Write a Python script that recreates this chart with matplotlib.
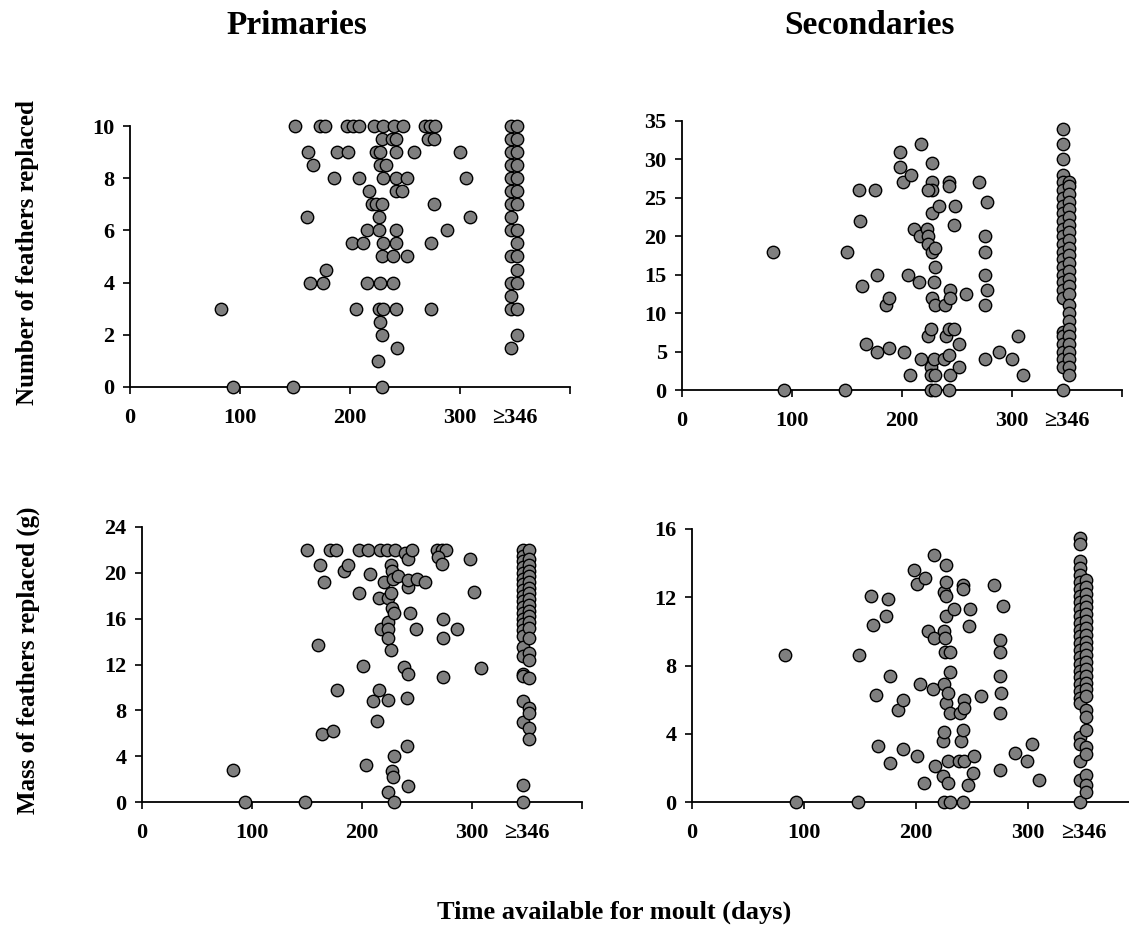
import matplotlib
matplotlib.use("Agg")
import matplotlib.pyplot as plt

plt.rcParams['font.family'] = ['Liberation Serif', 'DejaVu Serif']
plt.rcParams['font.weight'] = 'bold'

# ---------------- data ----------------
# Primaries: number of feathers replaced vs. time available (days)
prim_num_days = [150, 173, 177, 197, 203, 208, 222, 230, 240, 248, 268, 273, 277,
                 229, 238, 242, 271, 276,
                 162, 188, 198, 224, 227, 242, 258, 300,
                 166, 227, 233,
                 185, 208, 230, 242, 252, 305,
                 217, 242, 247,
                 220, 224, 229, 276,
                 161, 226, 309,
                 215, 226, 242, 288,
                 202, 212, 230, 242, 274,
                 229, 239, 252,
                 178,
                 164, 175, 215, 227, 239,
                 83, 205, 226, 230, 242, 274,
                 227, 229, 243, 225,
                 94, 148, 229]
prim_num_vals = [10, 10, 10, 10, 10, 10, 10, 10, 10, 10, 10, 10, 10,
                 9.5, 9.5, 9.5, 9.5, 9.5,
                 9, 9, 9, 9, 9, 9, 9, 9,
                 8.5, 8.5, 8.5,
                 8, 8, 8, 8, 8, 8,
                 7.5, 7.5, 7.5,
                 7, 7, 7, 7,
                 6.5, 6.5, 6.5,
                 6, 6, 6, 6,
                 5.5, 5.5, 5.5, 5.5, 5.5,
                 5, 5, 5,
                 4.5,
                 4, 4, 4, 4, 4,
                 3, 3, 3, 3, 3, 3,
                 2.5, 2, 1.5, 1,
                 0, 0, 0]
# birds with >=346 days, drawn as a column in two offsets
prim_num_col_a = [10, 9.5, 9, 8.5, 8, 7.5, 7, 6.5, 6, 5, 4, 3.5, 3, 1.5]
prim_num_col_b = [10, 9.5, 9, 8.5, 8, 7.5, 7, 6, 5.5, 5, 4.5, 4, 3, 2]

# Secondaries: number of feathers replaced
sec_num_days = [83, 93, 148, 150, 161, 162, 164, 167, 175, 177, 177, 185, 188, 188,
                198, 198, 201, 208, 202, 205, 207, 215, 217, 211, 216, 217,
                223, 224, 224, 224, 226, 226, 226, 226, 227, 227, 227, 224, 227, 227,
                230, 230, 229, 227, 230, 229, 230, 230, 234, 239, 238, 240,
                243, 243, 244, 244, 243, 247, 243, 244, 243, 248, 247, 252, 252, 258,
                270, 277, 275, 275, 275, 277, 275, 275, 288, 300, 305, 310]
sec_num_vals = [18, 0, 0, 18, 26, 22, 13.5, 6, 26, 15, 5, 11, 12, 5.5,
                31, 29, 27, 28, 5, 15, 2, 14, 32, 21, 20, 4,
                21, 20, 19, 7, 8, 3, 2, 0, 29.5, 27, 26, 26, 23, 18,
                18.5, 16, 14, 12, 11, 4, 2, 0, 24, 11, 4, 7,
                27, 26.5, 13, 12, 8, 8, 4.5, 2, 0, 24, 21.5, 6, 3, 12.5,
                27, 24.5, 20, 18, 15, 13, 11, 4, 5, 4, 7, 2]
sec_num_col_a = [34, 32, 30, 28, 27, 26, 25, 24, 23, 22, 21, 20, 19, 18, 17, 16,
                 15, 14, 13, 12, 7.5, 7, 6, 5, 4, 3, 0]
sec_num_col_b = [27, 26.5, 25.5, 24.5, 23.5, 22.5, 21.5, 20.5, 19.5, 18.5, 17.5,
                 16.5, 15.5, 14.5, 13.5, 12.5, 11, 10, 9, 8, 7, 6, 5, 4, 3, 2]

# Primaries: mass of feathers replaced (g)
prim_mass_days = [83, 94, 148, 150, 162, 165, 160, 164, 174, 177, 171, 176, 184, 187,
                  197, 205, 197, 201, 204, 207, 210, 214, 215, 215, 217, 220,
                  216, 223, 224, 224, 224, 226, 224, 224, 224, 226, 226, 227,
                  227, 228, 229, 229, 227, 229, 228, 230, 233, 239, 242, 238,
                  242, 241, 241, 242, 242, 242, 244, 245, 249, 250, 257,
                  268, 273, 276, 269, 273, 274, 274, 274, 286, 298, 302, 308]
prim_mass_vals = [2.8, 0, 0, 22, 20.7, 19.2, 13.7, 5.9, 6.2, 9.8, 22, 22, 20.2, 20.7,
                  22, 22, 18.2, 11.9, 3.25, 19.9, 8.8, 7.1, 9.8, 17.8, 15.1, 19.2,
                  22, 22, 8.9, 0.9, 17.8, 18.2, 15.7, 15.1, 14.3, 13.3, 20.7, 20.2,
                  2.7, 2.2, 4.0, 0, 16.9, 16.5, 19.5, 22, 19.7, 21.7, 21.2, 11.8,
                  11.2, 9.1, 4.9, 1.4, 18.8, 19.4, 16.5, 22, 15.1, 19.5, 19.2,
                  22, 22, 22, 21.4, 20.8, 16.0, 14.3, 10.9, 15.1, 21.2, 18.3, 11.7]
prim_mass_col_a = [22, 21.5, 21, 20.5, 20, 19.5, 19, 18.5, 18, 17.5, 17, 16.5, 16,
                   15.5, 15, 14.5, 13.5, 12.7, 11.2, 11, 8.8, 7.0, 1.5, 0]
prim_mass_col_b = [22, 21.2, 20.7, 20.2, 19.7, 19.2, 18.7, 18.2, 17.7, 17.2, 16.7,
                   16.2, 15.7, 15.2, 14.3, 13.0, 12.4, 10.8, 8.2, 7.8, 6.5, 5.5]

# Secondaries: mass of feathers replaced (g)
sec_mass_days = [83, 93, 148, 149, 160, 162, 164, 166, 175, 173, 177, 177, 184, 188,
                 188, 198, 201, 208, 201, 204, 207, 216, 211, 216, 215, 217,
                 224, 224, 225, 225, 227, 225, 226, 226, 227, 225, 227, 227, 227,
                 230, 230, 229, 230, 229, 229, 225, 230, 234, 239, 240, 242,
                 238, 243, 242, 242, 242, 243, 243, 248, 247, 252, 251, 246, 258,
                 270, 278, 275, 275, 275, 276, 275, 275, 288, 299, 304, 310]
sec_mass_vals = [8.6, 0, 0, 8.6, 12.1, 10.4, 6.3, 3.3, 11.9, 10.9, 7.4, 2.3, 5.4, 6.0,
                 3.1, 13.6, 12.8, 13.1, 2.7, 6.9, 1.1, 14.5, 10.0, 9.6, 6.6, 2.1,
                 1.5, 3.6, 4.1, 6.9, 5.8, 10.0, 9.6, 8.8, 13.9, 12.3, 12.9, 12.1, 10.9,
                 8.8, 7.6, 6.4, 5.2, 2.4, 1.1, 0, 0, 11.3, 5.2, 3.6, 4.2,
                 2.4, 2.4, 0, 12.7, 12.5, 6.0, 5.5, 11.3, 10.3, 2.7, 1.7, 1.0, 6.2,
                 12.7, 11.5, 9.5, 8.8, 7.4, 6.4, 5.2, 1.9, 2.9, 2.4, 3.4, 1.3]
sec_mass_col_a = [15.5, 15.1, 14.1, 13.7, 13.3, 12.9, 12.5, 12.1, 11.7, 11.3, 10.9,
                  10.5, 10.1, 9.7, 9.3, 8.9, 8.5, 8.1, 7.7, 7.3, 6.9, 6.5, 6.1, 5.8,
                  3.8, 3.4, 2.4, 1.3, 0]
sec_mass_col_b = [13.0, 12.6, 12.2, 11.8, 11.4, 11.0, 10.6, 10.2, 9.8, 9.4, 9.0, 8.6,
                  8.2, 7.8, 7.4, 7.0, 6.6, 6.2, 5.4, 5.0, 4.2, 3.2, 2.8, 1.6, 1.0, 0.6]

COL_DAY_A = 346
COL_DAY_B = 352

x_ticks = [0, 100, 200, 300, 400]
x_tick_labels = ['0', '100', '200', '300', '']
open_label = '\u2265346'

panels = [
    dict(rect=(130, 126, 440, 261), days=prim_num_days, vals=prim_num_vals,
         col_a=prim_num_col_a, col_b=prim_num_col_b, ymax=10, yticks=[0, 2, 4, 6, 8, 10]),
    dict(rect=(682, 121, 440, 269), days=sec_num_days, vals=sec_num_vals,
         col_a=sec_num_col_a, col_b=sec_num_col_b, ymax=35, yticks=[0, 5, 10, 15, 20, 25, 30, 35]),
    dict(rect=(142, 527, 440, 275), days=prim_mass_days, vals=prim_mass_vals,
         col_a=prim_mass_col_a, col_b=prim_mass_col_b, ymax=24, yticks=[0, 4, 8, 12, 16, 20, 24]),
    dict(rect=(692, 529, 448, 273), days=sec_mass_days, vals=sec_mass_vals,
         col_a=sec_mass_col_a, col_b=sec_mass_col_b, ymax=16, yticks=[0, 4, 8, 12, 16]),
]

W, H = 1129, 930
fig = plt.figure(figsize=(W / 100, H / 100), dpi=100)

marker_kw = dict(s=80, c='#7f7f7f', edgecolors='black', linewidths=1.0,
                 zorder=3, clip_on=False)

for p in panels:
    left, top, w, h = p['rect']
    ax = fig.add_axes([left / W, 1 - (top + h) / H, w / W, h / H])
    ax.scatter(p['days'], p['vals'], **marker_kw)
    ax.scatter([COL_DAY_A] * len(p['col_a']), p['col_a'], **marker_kw)
    ax.scatter([COL_DAY_B] * len(p['col_b']), p['col_b'], **marker_kw)

    ax.set_xlim(0, 400)
    ax.set_ylim(0, p['ymax'])
    ax.set_xticks(x_ticks)
    ax.set_xticklabels(x_tick_labels)
    ax.set_xticks([350], minor=True)
    ax.set_xticklabels([open_label], minor=True)
    ax.set_yticks(p['yticks'])
    for side in ('top', 'right'):
        ax.spines[side].set_visible(False)
    for side in ('left', 'bottom'):
        ax.spines[side].set_linewidth(1.3)
        ax.spines[side].set_color('black')
    ax.tick_params(axis='x', which='major', direction='out', length=5, width=1.2,
                   pad=10, labelsize=16)
    ax.tick_params(axis='x', which='minor', length=0, pad=15, labelsize=16)
    ax.tick_params(axis='y', direction='out', length=5, width=1.2, pad=6, labelsize=16)
    for lbl in ax.get_xticklabels(which='both') + ax.get_yticklabels():
        lbl.set_fontweight('bold')

# column titles, axis titles
fig.text(297 / W, 1 - 25 / H, 'Primaries', ha='center', va='center',
         fontsize=24, fontweight='bold')
fig.text(870 / W, 1 - 25 / H, 'Secondaries', ha='center', va='center',
         fontsize=24, fontweight='bold')
fig.text(28 / W, 1 - 253 / H, 'Number of feathers replaced', ha='center', va='center',
         rotation=90, fontsize=18, fontweight='bold')
fig.text(28 / W, 1 - 660 / H, 'Mass of feathers replaced (g)', ha='center', va='center',
         rotation=90, fontsize=18, fontweight='bold')
fig.text(614 / W, 1 - 912 / H, 'Time available for moult (days)', ha='center', va='center',
         fontsize=19, fontweight='bold')

fig.savefig('out.png', dpi=100)
